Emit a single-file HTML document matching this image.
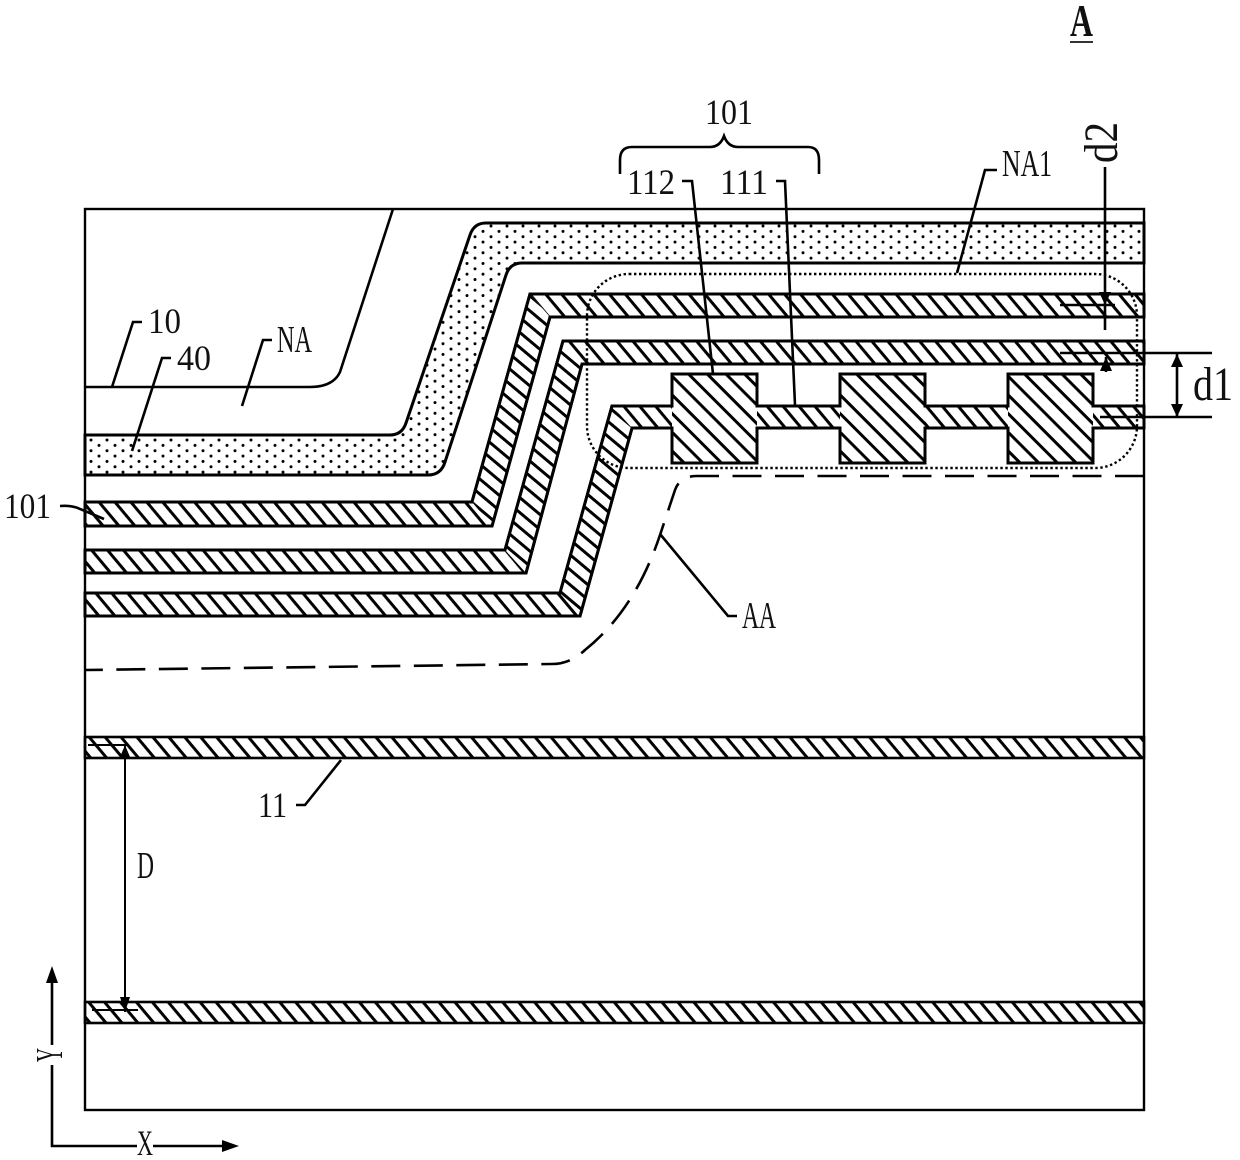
<!DOCTYPE html>
<html><head><meta charset="utf-8"><style>html,body{margin:0;padding:0;background:#fff}svg{display:block}text{font-family:"Liberation Serif",serif;fill:#111}</style></head><body>
<svg width="1240" height="1160" viewBox="0 0 1240 1160" xmlns="http://www.w3.org/2000/svg">
<defs>
<pattern id="h1" patternUnits="userSpaceOnUse" width="12.2" height="12.2" patternTransform="translate(85 502) rotate(50)"><rect width="12.2" height="3" fill="#000"/></pattern>
<pattern id="hs" patternUnits="userSpaceOnUse" width="11.5" height="11.5" patternTransform="translate(530 294) rotate(40)"><rect width="11.5" height="3" fill="#000"/></pattern>
<pattern id="h2" patternUnits="userSpaceOnUse" width="13.2" height="13.2" patternTransform="translate(672 374) rotate(45)"><rect width="13.2" height="3" fill="#000"/></pattern>
<pattern id="dots" patternUnits="userSpaceOnUse" width="16" height="10.7" patternTransform="translate(91 440)"><circle cx="0" cy="0" r="1.5" fill="#000"/><circle cx="16" cy="0" r="1.5" fill="#000"/><circle cx="0" cy="10.7" r="1.5" fill="#000"/><circle cx="16" cy="10.7" r="1.5" fill="#000"/><circle cx="8" cy="5.35" r="1.5" fill="#000"/></pattern>
</defs>
<rect width="1240" height="1160" fill="#fff"/>
<g fill="none" stroke="#000" stroke-width="3">
<path d="M85 435H390Q402 435 406 423L470 235Q474 223 486 223H1144V263H522Q510 263 506 275L445 462Q441 475 428 475H85Z" fill="url(#dots)"/>
<path d="M85 387H310Q333 387 340 372L393 209" stroke-width="2.6"/>
<path d="M85 502H472L530 294H1144V317H550L492 526H85Z" fill="url(#h1)"/>
<path d="M85 550H505L563 341H1144V364H582L526 573H85Z" fill="url(#h1)"/>
<path d="M85 593H560L612 406H672V374H757V406H840V374H925V406H1008V374H1093V406H1144V428H1093V463H1008V428H925V463H840V428H757V463H672V428H632L580 616H85Z" fill="url(#h1)"/>
</g>
<g stroke="none">
<path d="M472 502L530 294L550 317L492 526Z" fill="#fff"/><path d="M472 502L530 294L550 317L492 526Z" fill="url(#hs)"/>
<path d="M505 550L563 341L582 364L526 573Z" fill="#fff"/><path d="M505 550L563 341L582 364L526 573Z" fill="url(#hs)"/>
<path d="M560 593L612 406L632 428L580 616Z" fill="#fff"/><path d="M560 593L612 406L632 428L580 616Z" fill="url(#hs)"/>
<rect x="672" y="374" width="85" height="89" fill="#fff"/><rect x="672" y="374" width="85" height="89" fill="url(#h2)"/>
<rect x="840" y="374" width="85" height="89" fill="#fff"/><rect x="840" y="374" width="85" height="89" fill="url(#h2)"/>
<rect x="1008" y="374" width="85" height="89" fill="#fff"/><rect x="1008" y="374" width="85" height="89" fill="url(#h2)"/>
</g>
<g fill="none" stroke="#000" stroke-width="3">
<path d="M85 502H472L530 294H1144V317H550L492 526H85Z"/>
<path d="M85 550H505L563 341H1144V364H582L526 573H85Z"/>
<path d="M85 593H560L612 406H672V374H757V406H840V374H925V406H1008V374H1093V406H1144V428H1093V463H1008V428H925V463H840V428H757V463H672V428H632L580 616H85Z"/>
<rect x="85" y="737" width="1059" height="21" fill="url(#h1)" stroke-width="2.6"/>
<rect x="85" y="1002" width="1059" height="21" fill="url(#h1)" stroke-width="2.6"/>
<rect x="85" y="209" width="1059" height="901" stroke-width="2.4"/>
</g>
<rect x="587" y="274" width="550" height="194" rx="42" ry="42" fill="none" stroke="#000" stroke-width="2.4" stroke-dasharray="2.4 2.6"/>
<path d="M1144 476H697Q680 476 675 490L660 535Q635 610 585 650Q570 664 552 664L85 670" fill="none" stroke="#000" stroke-width="2.6" stroke-dasharray="29 13.5"/>
<g fill="none" stroke="#000" stroke-width="2.6">
<path d="M620 174V160Q620 147 632 147H710Q720 147 724 136Q728 147 738 147H808Q819 147 819 160V174"/>
<path d="M957 273L985 170H997"/>
<path d="M682 181H692L713 374"/>
<path d="M776 181H785L795 405"/>
<path d="M112 387L133 322H142"/>
<path d="M132 451L162 358H171"/>
<path d="M242 406L263 340H272"/>
<path d="M60 506Q72 505 80 509L104 519"/>
<path d="M296 805H305L341 760"/>
<path d="M660 534L728 616H737"/>
<path d="M1105 167V330"/>
<path d="M1060 305H1115"/>
<path d="M1060 353H1212"/>
<path d="M1106 357V372"/>
<path d="M1100 417H1212"/>
<path d="M1177 354V417"/>
<path d="M88 745H127M92 1010H138" stroke-width="2"/>
<path d="M125 745V1012" stroke-width="2"/>
<path d="M52 983V1045M52 1065V1146H137M153 1146H222"/>
</g>
<g fill="#000" stroke="none">
<path d="M1099 292H1111L1105 305Z"/>
<path d="M1106 357L1112 371H1100Z"/>
<path d="M1177 354L1183 367H1171Z"/>
<path d="M1177 417L1183 404H1171Z"/>
<path d="M125 745L130 757H120Z"/>
<path d="M125 1012L130 997H120Z"/>
<path d="M52 966L58 983H46Z"/>
<path d="M239 1146L222 1140V1152Z"/>
</g>
<text x="1070" y="36" font-size="46" font-weight="bold" textLength="23" lengthAdjust="spacingAndGlyphs">A</text>
<rect x="1070" y="41" width="23" height="2" fill="#333"/>
<text x="705" y="124" font-size="36" textLength="48" lengthAdjust="spacingAndGlyphs">101</text>
<text x="627" y="194" font-size="36" textLength="48" lengthAdjust="spacingAndGlyphs">112</text>
<text x="720" y="194" font-size="36" textLength="48" lengthAdjust="spacingAndGlyphs">111</text>
<text x="1002" y="176" font-size="38" textLength="50" lengthAdjust="spacingAndGlyphs">NA1</text>
<text x="148" y="333" font-size="36" textLength="33" lengthAdjust="spacingAndGlyphs">10</text>
<text x="177" y="370" font-size="36" textLength="34" lengthAdjust="spacingAndGlyphs">40</text>
<text x="277" y="352" font-size="38" textLength="35" lengthAdjust="spacingAndGlyphs">NA</text>
<text x="4" y="518" font-size="36" textLength="47" lengthAdjust="spacingAndGlyphs">101</text>
<text x="258" y="817" font-size="36" textLength="29" lengthAdjust="spacingAndGlyphs">11</text>
<text x="137" y="878" font-size="38" textLength="17" lengthAdjust="spacingAndGlyphs">D</text>
<text x="742" y="628" font-size="38" textLength="34" lengthAdjust="spacingAndGlyphs">AA</text>
<text x="137" y="1155" font-size="36" textLength="16" lengthAdjust="spacingAndGlyphs">X</text>
<text transform="translate(62 1062) rotate(-90)" font-size="38" textLength="14" lengthAdjust="spacingAndGlyphs">Y</text>
<text x="1193" y="400" font-size="48" textLength="40" lengthAdjust="spacingAndGlyphs">d1</text>
<text transform="translate(1117 163) rotate(-90)" font-size="48" textLength="41" lengthAdjust="spacingAndGlyphs">d2</text>
</svg>
</body></html>
